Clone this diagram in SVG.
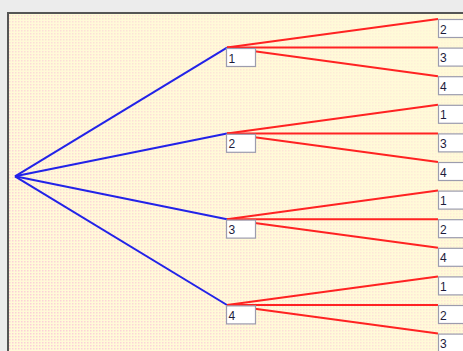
<svg xmlns="http://www.w3.org/2000/svg" width="463" height="351" viewBox="0 0 463 351">
<defs>
<linearGradient id="fade" x1="0" y1="0.8" x2="1" y2="0.2">
<stop offset="0" stop-color="#ffffff" stop-opacity="1"/>
<stop offset="1" stop-color="#ffffff" stop-opacity="0.15"/>
</linearGradient>
<mask id="m"><rect x="8" y="13" width="460" height="345" fill="url(#fade)"/></mask>
<pattern id="dots" width="3" height="3" patternUnits="userSpaceOnUse">
<rect x="0" y="0" width="1.5" height="1.5" fill="#fccdd8"/>
</pattern>
<style>
.b{stroke:#2222e8;stroke-width:2;fill:none}
.r{stroke:#ff2222;stroke-width:2;fill:none}
.box{fill:#ffffff;stroke:#9c9cae;stroke-width:1.2}
.t{font-family:"Liberation Sans",Arial,sans-serif;font-size:12px;fill:#1c1c3c}
</style>
</defs>
<rect x="0" y="0" width="463" height="351" fill="#ececec"/>
<rect x="8" y="13" width="460" height="345" fill="#fffad8"/>
<rect x="8" y="13" width="460" height="345" fill="url(#dots)" mask="url(#m)"/>
<path d="M8,351 V13 H463" fill="none" stroke="#555555" stroke-width="2"/>
<g id="connectors">
<line class="b" x1="15" y1="176.3" x2="227" y2="47.6"/>
<line class="b" x1="15" y1="176.3" x2="227" y2="133.4"/>
<line class="b" x1="15" y1="176.3" x2="227" y2="219.2"/>
<line class="b" x1="15" y1="176.3" x2="227" y2="305"/>
<line class="r" x1="227" y1="47.6" x2="438" y2="19"/>
<line class="r" x1="227" y1="47.6" x2="438" y2="47.6"/>
<line class="r" x1="227" y1="47.6" x2="438" y2="76.2"/>
<line class="r" x1="227" y1="133.4" x2="438" y2="104.8"/>
<line class="r" x1="227" y1="133.4" x2="438" y2="133.4"/>
<line class="r" x1="227" y1="133.4" x2="438" y2="162"/>
<line class="r" x1="227" y1="219.2" x2="438" y2="190.6"/>
<line class="r" x1="227" y1="219.2" x2="438" y2="219.2"/>
<line class="r" x1="227" y1="219.2" x2="438" y2="247.8"/>
<line class="r" x1="227" y1="305" x2="438" y2="276.4"/>
<line class="r" x1="227" y1="305" x2="438" y2="305"/>
<line class="r" x1="227" y1="305" x2="438" y2="333.6"/>
</g>
<g id="n1"><rect class="box" x="226.5" y="48.5" width="29" height="18"/><text class="t" x="228.5" y="62.5">1</text></g>
<g id="n2"><rect class="box" x="226.5" y="134.3" width="29" height="18"/><text class="t" x="228.5" y="148.3">2</text></g>
<g id="n3"><rect class="box" x="226.5" y="220.1" width="29" height="18"/><text class="t" x="228.5" y="234.1">3</text></g>
<g id="n4"><rect class="box" x="226.5" y="305.9" width="29" height="18"/><text class="t" x="228.5" y="319.9">4</text></g>
<g id="l1"><rect class="box" x="438.5" y="19.5" width="30" height="18"/><text class="t" x="440" y="33.5">2</text></g>
<g id="l2"><rect class="box" x="438.5" y="48.1" width="30" height="18"/><text class="t" x="440" y="62.1">3</text></g>
<g id="l3"><rect class="box" x="438.5" y="76.7" width="30" height="18"/><text class="t" x="440" y="90.7">4</text></g>
<g id="l4"><rect class="box" x="438.5" y="105.3" width="30" height="18"/><text class="t" x="440" y="119.3">1</text></g>
<g id="l5"><rect class="box" x="438.5" y="133.9" width="30" height="18"/><text class="t" x="440" y="147.9">3</text></g>
<g id="l6"><rect class="box" x="438.5" y="162.5" width="30" height="18"/><text class="t" x="440" y="176.5">4</text></g>
<g id="l7"><rect class="box" x="438.5" y="191.1" width="30" height="18"/><text class="t" x="440" y="205.1">1</text></g>
<g id="l8"><rect class="box" x="438.5" y="219.7" width="30" height="18"/><text class="t" x="440" y="233.7">2</text></g>
<g id="l9"><rect class="box" x="438.5" y="248.3" width="30" height="18"/><text class="t" x="440" y="262.3">4</text></g>
<g id="l10"><rect class="box" x="438.5" y="276.9" width="30" height="18"/><text class="t" x="440" y="290.9">1</text></g>
<g id="l11"><rect class="box" x="438.5" y="305.5" width="30" height="18"/><text class="t" x="440" y="319.5">2</text></g>
<g id="l12"><rect class="box" x="438.5" y="334.1" width="30" height="18"/><text class="t" x="440" y="348.1">3</text></g>
</svg>
